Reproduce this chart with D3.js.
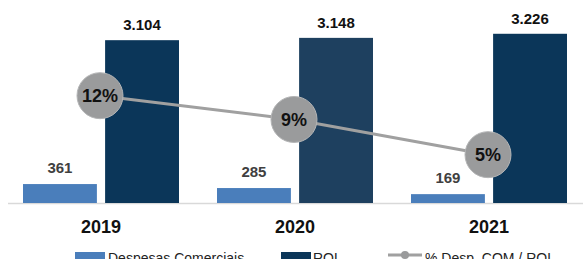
<!DOCTYPE html>
<html>
<head>
<meta charset="utf-8">
<script src="https://cdn.jsdelivr.net/npm/d3@7"></script>
<style>
  body { margin: 0; background: #fff; }
  text { font-family: "Liberation Sans", Arial, sans-serif; }
</style>
</head>
<body>
<div id="chart"></div>
<script>
var years = ["2019", "2020", "2021"];
var despesas = [361, 285, 169];
var rol = [3104, 3148, 3226];
var pctLabels = ["12%", "9%", "5%"];
var rolColors = ["#0b3659", "#1e405f", "#0b3659"];

var width = 583, height = 259;
var baseline = 203;

var svg = d3.select("#chart").append("svg").attr("width", width).attr("height", height);

// x bands for the years
var x = d3.scaleBand().domain(years).range([4, 586]).paddingInner(0).paddingOuter(0);
var inner = d3.scaleBand().domain(["d", "r"]).range([0, 156]).paddingInner(0.1);

var y = d3.scaleLinear().domain([0, 3870]).range([baseline, 0]);
var yPct = d3.scaleLinear().domain([0, 22]).range([baseline, 0]);

var pct = despesas.map(function(d, i) { return d / rol[i] * 100; });

function groupX(i) { return x(years[i]) + x.bandwidth() / 2 - 78; }

// axis line
svg.append("line").attr("x1", 8).attr("x2", width).attr("y1", baseline + 0.5).attr("y2", baseline + 0.5)
   .attr("stroke", "#d9d9d9").attr("stroke-width", 1.5);

// despesas bars
svg.selectAll(".desp").data(despesas).enter().append("rect")
   .attr("x", function(d, i) { return groupX(i) + inner("d"); })
   .attr("y", function(d) { return y(d); })
   .attr("width", inner.bandwidth())
   .attr("height", function(d) { return baseline - y(d); })
   .attr("fill", "#4a7ebb");

// rol bars
svg.selectAll(".rol").data(rol).enter().append("rect")
   .attr("x", function(d, i) { return groupX(i) + inner("r"); })
   .attr("y", function(d) { return y(d); })
   .attr("width", inner.bandwidth())
   .attr("height", function(d) { return baseline - y(d); })
   .attr("fill", function(d, i) { return rolColors[i]; });

// value labels
svg.selectAll(".dlab").data(despesas).enter().append("text")
   .attr("x", function(d, i) { return groupX(i) + inner("d") + inner.bandwidth() / 2; })
   .attr("y", function(d) { return y(d) - 11; })
   .attr("text-anchor", "middle").style("font-size", "15px").style("font-weight", "bold")
   .attr("fill", "#404040").text(function(d) { return d; });

svg.selectAll(".rlab").data(rol).enter().append("text")
   .attr("x", function(d, i) { return groupX(i) + inner("r") + inner.bandwidth() / 2; })
   .attr("y", function(d) { return y(d) - 10; })
   .attr("text-anchor", "middle").style("font-size", "15px").style("font-weight", "bold")
   .attr("fill", "#111").text(function(d) { return d3.format(",")(d).replace(",", "."); });

// percentage line
var cx = function(d, i) { return x(years[i]) + x.bandwidth() / 2 - 1; };
var line = d3.line().x(cx).y(function(d) { return yPct(d); });
svg.append("path").datum(pct).attr("d", line).attr("fill", "none")
   .attr("stroke", "#a0a0a0").attr("stroke-width", 3);

svg.selectAll(".dot").data(pct).enter().append("circle")
   .attr("cx", cx).attr("cy", function(d) { return yPct(d); }).attr("r", 23)
   .attr("fill", "#9a9b9c").attr("stroke", "#b4b5b6").attr("stroke-width", 1);

svg.selectAll(".plab").data(pct).enter().append("text")
   .attr("x", cx).attr("y", function(d) { return yPct(d) + 6.5; })
   .attr("text-anchor", "middle").style("font-size", "18px").style("font-weight", "bold")
   .attr("fill", "#111").text(function(d, i) { return pctLabels[i]; });

// x labels
svg.selectAll(".xlab").data(years).enter().append("text")
   .attr("x", function(d) { return x(d) + x.bandwidth() / 2; })
   .attr("y", 233)
   .attr("text-anchor", "middle").style("font-size", "18px").style("font-weight", "bold")
   .attr("fill", "#111").text(function(d) { return d; });

// legend
var legend = svg.append("g");
legend.append("rect").attr("x", 75).attr("y", 252).attr("width", 30).attr("height", 10).attr("fill", "#4a7ebb");
legend.append("text").attr("x", 108).attr("y", 263).style("font-size", "14px").attr("fill", "#222").text("Despesas Comerciais");
legend.append("rect").attr("x", 281).attr("y", 252).attr("width", 30).attr("height", 10).attr("fill", "#0b3659");
legend.append("text").attr("x", 313).attr("y", 263).style("font-size", "14px").attr("fill", "#222").text("ROL");
legend.append("line").attr("x1", 388).attr("x2", 422).attr("y1", 255).attr("y2", 255).attr("stroke", "#a0a0a0").attr("stroke-width", 3);
legend.append("circle").attr("cx", 405).attr("cy", 255).attr("r", 4).attr("fill", "#9a9b9c");
legend.append("text").attr("x", 425).attr("y", 263).style("font-size", "14px").attr("fill", "#222").text("% Desp. COM / ROL");
</script>
</body>
</html>
